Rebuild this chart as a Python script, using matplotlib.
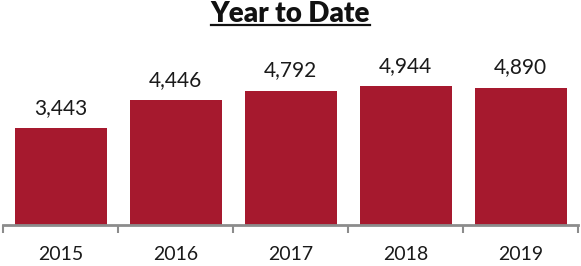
import matplotlib
matplotlib.use("Agg")
import matplotlib.pyplot as plt
from matplotlib.lines import Line2D

years = ["2015", "2016", "2017", "2018", "2019"]
values = [3443, 4446, 4792, 4944, 4890]

bar_color = "#A6192E"
axis_grey = "#8C8C8C"

plt.rcParams["font.family"] = ["Lato", "DejaVu Sans"]

fig = plt.figure(figsize=(5.81, 2.66), dpi=100)
ax = fig.add_axes([3 / 581, 41 / 266, 575 / 581, 195 / 266])

x = list(range(len(years)))
ax.bar(x, values, width=0.8, color=bar_color, zorder=2)
for xi, v in zip(x, values):
    ax.text(xi, v + 520, f"{v:,}", ha="center", va="baseline",
            fontsize=15, color="#1a1a1a")

ax.set_xlim(-0.5, len(years) - 0.5)
ax.set_ylim(0, 6950)
ax.set_yticks([])

# category labels, tick marks between categories
ax.set_xticks(x)
ax.set_xticklabels(years, fontsize=14, color="#1a1a1a")
ax.tick_params(axis="x", which="major", length=0, pad=15)
ax.set_xticks([i - 0.5 for i in range(len(years) + 1)], minor=True)
ax.tick_params(axis="x", which="minor", length=6, width=1.5, color=axis_grey)

for side in ["top", "right", "left"]:
    ax.spines[side].set_visible(False)
ax.spines["bottom"].set_color(axis_grey)
ax.spines["bottom"].set_linewidth(2)

# underlined title
title_y = 1 - 22 / 266
title = fig.text(0.5, title_y, "Year to Date", ha="center", va="baseline",
                 fontsize=20, fontweight="heavy", color="#111111")
fig.canvas.draw()
bb = title.get_window_extent().transformed(fig.transFigure.inverted())
line_y = title_y - 2.5 / 266
fig.add_artist(Line2D([bb.x0, bb.x1], [line_y, line_y],
                      transform=fig.transFigure, color="#111111", lw=1.6))

fig.savefig("out.png", dpi=100)
